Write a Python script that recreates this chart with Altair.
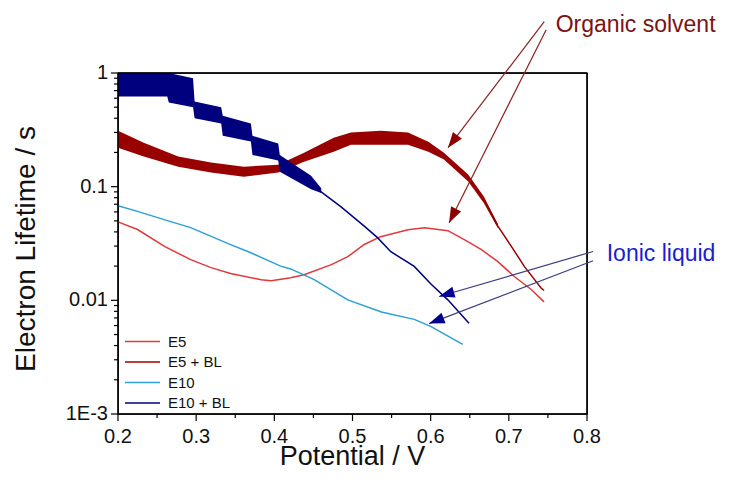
import math
import altair as alt
import pandas as pd

# ---------------- data ----------------
series_names = ["E5", "E5 + BL", "E10", "E10 + BL"]
series_colors = ["#e0393c", "#990000", "#2c9fd4", "#000080"]

e5_x = [0.200, 0.225, 0.260, 0.293, 0.319, 0.344, 0.383, 0.396, 0.421, 0.438,
        0.473, 0.494, 0.515, 0.536, 0.571, 0.592, 0.622, 0.643, 0.665, 0.686,
        0.707, 0.729, 0.745]
e5_y = [0.049, 0.042, 0.0297, 0.0228, 0.0194, 0.0172, 0.0152, 0.0149, 0.0158, 0.0168,
        0.0206, 0.0242, 0.031, 0.0363, 0.0418, 0.0436, 0.041, 0.0342, 0.0279, 0.0219,
        0.0162, 0.0124, 0.0097]

e5bl_x = [0.200, 0.233, 0.277, 0.319, 0.361, 0.405, 0.438, 0.476, 0.498, 0.536,
          0.571, 0.597, 0.617, 0.648, 0.668, 0.686, 0.703, 0.720, 0.741, 0.745]
e5bl_y = [0.263, 0.211, 0.166, 0.147, 0.135, 0.144, 0.182, 0.234, 0.26, 0.27,
          0.265, 0.225, 0.186, 0.119, 0.077, 0.045, 0.030, 0.0198, 0.0129, 0.0122]
# noisy envelope of E5 + BL
e5bl_band_x = [0.200, 0.233, 0.277, 0.319, 0.361, 0.405, 0.438, 0.476, 0.498, 0.536,
               0.571, 0.597, 0.617, 0.648, 0.668, 0.686]
e5bl_band_hi = [0.31, 0.243, 0.184, 0.163, 0.150, 0.156, 0.199, 0.27, 0.30, 0.31,
                0.30, 0.249, 0.199, 0.128, 0.082, 0.047]
e5bl_band_lo = [0.22, 0.184, 0.150, 0.133, 0.122, 0.133, 0.166, 0.203, 0.234, 0.234,
                0.234, 0.203, 0.173, 0.111, 0.072, 0.043]

e10_x = [0.200, 0.225, 0.259, 0.293, 0.344, 0.370, 0.408, 0.421, 0.451, 0.494,
         0.537, 0.579, 0.600, 0.641]
e10_y = [0.068, 0.0606, 0.0513, 0.0436, 0.0309, 0.0262, 0.020, 0.0189, 0.0152, 0.0101,
         0.0079, 0.0068, 0.0059, 0.0041]

e10bl_x = [0.200, 0.230, 0.262, 0.280, 0.297, 0.315, 0.335, 0.352, 0.370, 0.387,
           0.405, 0.419, 0.435, 0.451, 0.485, 0.515, 0.532, 0.549, 0.579, 0.600,
           0.622, 0.649]
e10bl_y = [0.85, 0.85, 0.80, 0.72, 0.55, 0.44, 0.38, 0.32, 0.26, 0.21,
           0.175, 0.15, 0.125, 0.10, 0.0667, 0.045, 0.0356, 0.0268, 0.0199, 0.014,
           0.0101, 0.0063]
# noisy envelope of E10 + BL
e10bl_band_x = [0.200, 0.263, 0.265, 0.296, 0.298, 0.332, 0.334, 0.370, 0.372, 0.405,
                0.407, 0.447, 0.460]
e10bl_band_hi = [1.0, 1.0, 1.0, 0.90, 0.56, 0.50, 0.42, 0.36, 0.28, 0.24,
                 0.19, 0.125, 0.097]
e10bl_band_lo = [0.62, 0.62, 0.55, 0.50, 0.40, 0.36, 0.28, 0.25, 0.19, 0.17,
                 0.135, 0.095, 0.088]

# axes
x_major = [0.2, 0.3, 0.4, 0.5, 0.6, 0.7, 0.8]
x_major_labels = ["0.2", "0.3", "0.4", "0.5", "0.6", "0.7", "0.8"]
x_minor = [0.25, 0.35, 0.45, 0.55, 0.65, 0.75]
y_major = [0.001, 0.01, 0.1, 1]
y_major_labels = ["1E-3", "0.01", "0.1", "1"]
y_minor = [round(m * d, 6) for d in (0.001, 0.01, 0.1) for m in range(2, 10)]
x_title = "Potential / V"
y_title = "Electron Lifetime / s"

# annotations (data coordinates)
organic_text = "Organic solvent"
organic_text_x, organic_text_y = 0.760, 2.31
organic_start_x = [0.7453, 0.7478]
organic_start_y = [2.826, 2.40]
organic_end_x = [0.6222, 0.6236]
organic_end_y = [0.2203, 0.0482]

ionic_text = "Ionic liquid"
ionic_text_x, ionic_text_y = 0.8252, 0.0223
ionic_start_x = [0.8078, 0.8078]
ionic_start_y = [0.0269, 0.0223]
ionic_end_x = [0.6108, 0.598]
ionic_end_y = [0.0108, 0.00624]

# ---------------- chart ----------------
W, H = 469, 341
XDOM = [0.2, 0.8]
YDOM = [0.001, 1]
FONT = "Liberation Sans"
MAJOR, MINOR = 7, 4


def to_px(x, y):
    px = (x - XDOM[0]) / (XDOM[1] - XDOM[0]) * W
    py = (math.log10(YDOM[1]) - math.log10(y)) / (math.log10(YDOM[1]) - math.log10(YDOM[0])) * H
    return px, py


def arrow_angles(sx, sy, ex, ey):
    out = []
    for a, b, c, d in zip(sx, sy, ex, ey):
        p0 = to_px(a, b)
        p1 = to_px(c, d)
        dx, dy = p1[0] - p0[0], p1[1] - p0[1]
        out.append(math.degrees(math.atan2(dx, -dy)) % 360)
    return out


rows = []
for name, xs, ys in zip(series_names, [e5_x, e5bl_x, e10_x, e10bl_x], [e5_y, e5bl_y, e10_y, e10bl_y]):
    for a, b in zip(xs, ys):
        rows.append({"series": name, "x": a, "y": b})
lines_df = pd.DataFrame(rows)

band_red = pd.DataFrame({"x": e5bl_band_x, "hi": e5bl_band_hi, "lo": e5bl_band_lo})
band_blue = pd.DataFrame({"x": e10bl_band_x, "hi": e10bl_band_hi, "lo": e10bl_band_lo})

x_scale = alt.Scale(domain=XDOM, nice=False, zero=False)
y_scale = alt.Scale(type="log", domain=YDOM, nice=False)


def XQ(field):
    return alt.X(field, scale=x_scale, axis=None)


def YQ(field):
    return alt.Y(field, scale=y_scale, axis=None)


lines = alt.Chart(lines_df).mark_line(strokeWidth=1.5).encode(
    x=XQ("x:Q"), y=YQ("y:Q"),
    color=alt.Color(
        "series:N",
        scale=alt.Scale(domain=series_names, range=series_colors),
        sort=series_names,
        legend=alt.Legend(
            title=None, orient="none", legendX=17, legendY=261,
            symbolType="M-3.5,0H3.5", symbolSize=100, symbolStrokeWidth=1.5,
            labelFont=FONT, labelFontSize=15, labelColor="#111",
            labelOffset=18, rowPadding=4.5, padding=0,
        ),
    ),
)

band_r = alt.Chart(band_red).mark_area(color="#990000", opacity=1).encode(
    x=XQ("x:Q"), y=YQ("hi:Q"), y2="lo:Q"
)
band_b = alt.Chart(band_blue).mark_area(color="#00007f", opacity=1).encode(
    x=XQ("x:Q"), y=YQ("hi:Q"), y2="lo:Q"
)

# ---- frame, ticks, tick labels and titles, drawn through the scales ----
frame_v = alt.Chart(pd.DataFrame({"x": XDOM})).mark_rule(color="black", strokeWidth=1.4).encode(
    x=XQ("x:Q"), y=alt.value(0), y2=alt.value(H)
)
frame_h = alt.Chart(pd.DataFrame({"y": YDOM})).mark_rule(color="black", strokeWidth=1.4).encode(
    y=YQ("y:Q"), x=alt.value(0), x2=alt.value(W)
)
xt_major = alt.Chart(pd.DataFrame({"x": x_major})).mark_rule(color="black", strokeWidth=1.2).encode(
    x=XQ("x:Q"), y=alt.value(H), y2=alt.value(H + MAJOR)
)
xt_minor = alt.Chart(pd.DataFrame({"x": x_minor})).mark_rule(color="black", strokeWidth=1.2).encode(
    x=XQ("x:Q"), y=alt.value(H), y2=alt.value(H + MINOR)
)
yt_major = alt.Chart(pd.DataFrame({"y": y_major})).mark_rule(color="black", strokeWidth=1.2).encode(
    y=YQ("y:Q"), x=alt.value(-MAJOR), x2=alt.value(0)
)
yt_minor = alt.Chart(pd.DataFrame({"y": y_minor})).mark_rule(color="black", strokeWidth=1.2).encode(
    y=YQ("y:Q"), x=alt.value(-MINOR), x2=alt.value(0)
)
xt_labels = alt.Chart(pd.DataFrame({"x": x_major, "t": x_major_labels})).mark_text(
    align="center", baseline="top", font=FONT, fontSize=20, color="#111"
).encode(x=XQ("x:Q"), y=alt.value(H + MAJOR + 6), text="t:N")
yt_labels = alt.Chart(pd.DataFrame({"y": y_major, "t": y_major_labels})).mark_text(
    align="right", baseline="middle", font=FONT, fontSize=20, color="#111"
).encode(y=YQ("y:Q"), x=alt.value(-(MAJOR + 3)), text="t:N")
x_title_mark = alt.Chart(pd.DataFrame({"t": [x_title]})).mark_text(
    align="center", baseline="alphabetic", font=FONT, fontSize=27, color="#111"
).encode(x=alt.value(W / 2), y=alt.value(H + 51), text="t:N")
y_title_mark = alt.Chart(pd.DataFrame({"t": [y_title]})).mark_text(
    align="center", baseline="alphabetic", font=FONT, fontSize=28, color="#111", angle=270
).encode(x=alt.value(-83), y=alt.value(176), text="t:N")

ARROW = "M0,0L-0.62,1.7L0.62,1.7Z"


def arrow_layers(sx, sy, ex, ey, line_color, head_color):
    df = pd.DataFrame({"sx": sx, "sy": sy, "ex": ex, "ey": ey,
                       "ang": arrow_angles(sx, sy, ex, ey)})
    rule = alt.Chart(df).mark_rule(color=line_color, strokeWidth=1.2).encode(
        x=XQ("sx:Q"), y=YQ("sy:Q"), x2="ex:Q", y2="ey:Q",
    )
    head = alt.Chart(df).mark_point(shape=ARROW, filled=True, size=330, opacity=1,
                                    color=head_color).encode(
        x=XQ("ex:Q"), y=YQ("ey:Q"),
        angle=alt.Angle("ang:Q", scale=None),
    )
    return rule + head


org = arrow_layers(organic_start_x, organic_start_y, organic_end_x, organic_end_y,
                   "#8a2323", "#8b0000")
ion = arrow_layers(ionic_start_x, ionic_start_y, ionic_end_x, ionic_end_y,
                   "#3c3c82", "#000090")

org_text = alt.Chart(pd.DataFrame({"x": [organic_text_x], "y": [organic_text_y], "t": [organic_text]})).mark_text(
    align="left", baseline="alphabetic", font=FONT, fontSize=23, color="#7d1212"
).encode(x=XQ("x:Q"), y=YQ("y:Q"), text="t:N")
ion_text = alt.Chart(pd.DataFrame({"x": [ionic_text_x], "y": [ionic_text_y], "t": [ionic_text]})).mark_text(
    align="left", baseline="alphabetic", font=FONT, fontSize=23, color="#1c1cd0"
).encode(x=XQ("x:Q"), y=YQ("y:Q"), text="t:N")

chart = alt.layer(
    lines, band_r, band_b, frame_v, frame_h, xt_major, xt_minor, yt_major, yt_minor,
    xt_labels, yt_labels, x_title_mark, y_title_mark,
    org, ion, org_text, ion_text,
).properties(
    width=W, height=H,
    background="white",
).configure_view(stroke="black", strokeWidth=1.3)

chart.save("out.html", embed_options={"renderer": "svg", "actions": False})
